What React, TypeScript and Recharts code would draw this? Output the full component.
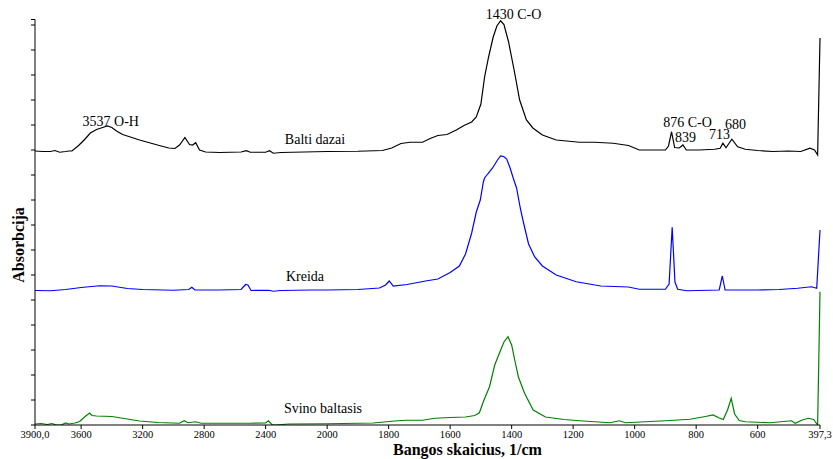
import { Label, Line, LineChart, ReferenceDot, XAxis, YAxis } from "recharts";

// Wavenumber axis ticks (1/cm)
const tickBangos = [3900, 3600, 3200, 2800, 2400, 2000, 1800, 1600, 1400, 1200, 1000, 800, 600, 397.3];
const tickTekstai = ["3900,0", "3600", "3200", "2800", "2400", "2000", "1800", "1600", "1400", "1200", "1000", "800", "600", "397,3"];

// Balti dazai (offset trace, top)
const baltiBangos = [
  3900, 3850, 3800, 3770, 3740, 3700, 3680, 3660, 3620, 3580, 3540, 3500, 3460, 3430, 3400, 3370, 3330, 3280,
  3220, 3150, 3080, 3030, 2990, 2960, 2925, 2895, 2875, 2855, 2830, 2790, 2700, 2560, 2525, 2500, 2400, 2375,
  2350, 2300, 2150, 2000, 1900, 1820, 1790, 1760, 1730, 1690, 1665, 1640, 1610, 1580, 1555, 1530, 1515, 1500,
  1488, 1475, 1460, 1448, 1436, 1425, 1410, 1392, 1374, 1352, 1331, 1300, 1255, 1180, 1130, 1070, 1020, 985,
  930, 900, 890, 880, 870, 855, 843, 832, 790, 740, 722, 713, 703, 684, 665, 640, 600, 550, 500, 460, 430, 415,
  405, 397.3,
];
const baltiAbs = [
  10.96, 10.94, 10.94, 10.98, 10.91, 10.94, 10.96, 10.96, 11.16, 11.4, 11.68, 11.82, 11.9, 11.96, 11.9, 11.76,
  11.62, 11.52, 11.4, 11.28, 11.16, 11.08, 11.06, 11.2, 11.5, 11.22, 11.2, 11.29, 11.0, 10.92, 10.9, 10.92, 10.97,
  10.91, 10.91, 10.97, 10.87, 10.9, 10.92, 10.94, 10.95, 10.98, 11.08, 11.26, 11.31, 11.31, 11.46, 11.58, 11.62,
  11.8, 11.98, 12.12, 12.32, 12.84, 13.92, 14.72, 15.52, 15.96, 16.17, 16.02, 15.32, 14.2, 13.0, 12.2, 11.88,
  11.6, 11.4, 11.31, 11.31, 11.27, 11.18, 11.0, 11.0, 11.0, 11.16, 11.73, 11.1, 11.08, 11.2, 11.0, 11.0, 11.03,
  11.07, 11.27, 11.09, 11.43, 11.13, 11.03, 10.98, 10.94, 10.96, 10.94, 11.07, 11.0, 10.8, 15.48,
];

// Kreida (offset trace, middle)
const kreidaBangos = [
  3900, 3800, 3700, 3600, 3480, 3400, 3300, 3200, 3000, 2900, 2880, 2860, 2700, 2560, 2530, 2515, 2495, 2380,
  2350, 2300, 2100, 2000, 1900, 1830, 1810, 1798, 1785, 1740, 1680, 1640, 1600, 1570, 1550, 1530, 1515, 1502,
  1492, 1488, 1478, 1462, 1452, 1446, 1436, 1426, 1416, 1405, 1395, 1384, 1372, 1362, 1345, 1325, 1300, 1255,
  1190, 1110, 1020, 985, 900, 888, 878, 869, 860, 830, 725, 715, 706, 600, 530, 470, 425, 408, 397.3,
];
const kreidaAbs = [
  5.38, 5.37, 5.42, 5.5, 5.57, 5.56, 5.46, 5.42, 5.39, 5.42, 5.51, 5.4, 5.4, 5.42, 5.62, 5.6, 5.38, 5.39, 5.35,
  5.38, 5.4, 5.4, 5.42, 5.48, 5.6, 5.76, 5.56, 5.62, 5.76, 5.84, 6.1, 6.36, 6.84, 7.68, 8.52, 9.0, 9.72, 9.88,
  10.04, 10.28, 10.48, 10.6, 10.76, 10.74, 10.64, 10.28, 9.88, 9.48, 8.68, 8.12, 7.24, 6.72, 6.36, 6.0, 5.73,
  5.56, 5.52, 5.43, 5.43, 5.64, 7.91, 5.72, 5.43, 5.37, 5.4, 5.96, 5.4, 5.4, 5.42, 5.47, 5.53, 5.47, 7.8,
];

// Svino baltasis (bottom trace)
const svinoBangos = [
  3900, 3860, 3820, 3790, 3760, 3730, 3700, 3680, 3640, 3610, 3570, 3545, 3530, 3500, 3400, 3320, 3220, 3100,
  2960, 2930, 2905, 2855, 2820, 2500, 2400, 2382, 2360, 2340, 2250, 2000, 1850, 1780, 1745, 1690, 1650, 1600,
  1550, 1520, 1505, 1490, 1472, 1455, 1440, 1425, 1412, 1400, 1390, 1378, 1358, 1330, 1290, 1230, 1180, 1080,
  1050, 1030, 900, 820, 770, 745, 725, 712, 698, 686, 675, 660, 640, 560, 490, 478, 455, 435, 418, 405, 397.3,
];
const svinoAbs = [
  0.04, 0.06, 0.02, 0.06, 0.0, 0.0, 0.08, 0.04, 0.08, 0.14, 0.36, 0.48, 0.38, 0.36, 0.34, 0.26, 0.16, 0.1, 0.07,
  0.17, 0.09, 0.13, 0.07, 0.07, 0.08, 0.17, 0.02, 0.0, 0.04, 0.05, 0.08, 0.16, 0.19, 0.19, 0.27, 0.3, 0.32, 0.38,
  0.49, 1.0, 1.53, 2.4, 2.87, 3.32, 3.53, 3.2, 2.6, 1.92, 1.27, 0.6, 0.32, 0.22, 0.17, 0.09, 0.17, 0.09, 0.17,
  0.23, 0.34, 0.4, 0.28, 0.22, 0.6, 1.07, 0.44, 0.18, 0.13, 0.09, 0.17, 0.07, 0.2, 0.27, 0.22, 0.0, 5.33,
];

// Peak and trace captions: [text, wavenumber, absorbance]
const uzrasai: [string, number, number][] = [
  ["1430 C-O", 1394, 16.44],
  ["3537 O-H", 3407, 12.14],
  ["Balti dazai", 2079, 11.42],
  ["876 C-O", 828, 12.12],
  ["839", 834.5, 11.5],
  ["713", 724, 11.64],
  ["680", 672, 12.04],
  ["Kreida", 2144, 5.96],
  ["Svino baltasis", 2027, 0.68],
];

// the region below 2000 1/cm is drawn with double horizontal scale
function asis(w: number) {
  return w >= 2000 ? 3900 - w : 1900 + (2000 - w) * 2;
}

const asisMax = asis(397.3);
const yMax = 16.22;
const yTicks = [...Array.from({ length: 17 }, (_, i) => i), yMax];
const serif = "'Liberation Serif', 'Times New Roman', serif";

function seka(bangos: number[], abs: number[]) {
  return bangos.map((w, i) => ({ x: asis(w), y: abs[i] }));
}

const serijos = [
  { vardas: "Balti dazai", duomenys: seka(baltiBangos, baltiAbs), spalva: "#000000" },
  { vardas: "Kreida", duomenys: seka(kreidaBangos, kreidaAbs), spalva: "#0000ff" },
  { vardas: "Svino baltasis", duomenys: seka(svinoBangos, svinoAbs), spalva: "#008000" },
];

function tickTekstas(t: number) {
  const i = tickBangos.findIndex((w) => Math.abs(asis(w) - t) < 0.01);
  return i >= 0 ? tickTekstai[i] : "";
}

export default function App() {
  return (
    <div style={{ position: "absolute", left: 0, top: 0, width: 833, height: 459, background: "#fff" }}>
      <LineChart width={833} height={459} margin={{ top: 19.5, right: 13, left: 0, bottom: 0 }}>
        <XAxis
          type="number"
          dataKey="x"
          domain={[0, asisMax]}
          ticks={tickBangos.map(asis)}
          interval={0}
          tickFormatter={tickTekstas}
          tickSize={4}
          tickMargin={2}
          height={34}
          stroke="#000"
          tick={{ fill: "#000", fontSize: 10.5, fontFamily: serif }}
        >
          <Label
            value="Bangos skaicius, 1/cm"
            position="insideBottom"
            offset={4}
            dx={40}
            style={{ fontFamily: serif, fontSize: 16, fontWeight: "bold", fill: "#000" }}
          />
        </XAxis>
        <YAxis
          type="number"
          domain={[0, yMax]}
          ticks={yTicks}
          interval={0}
          allowDataOverflow
          tickFormatter={() => ""}
          tickSize={4}
          width={35}
          stroke="#000"
        >
          <Label
            content={() => (
              <text
                x={18}
                y={245}
                transform="rotate(-90 18 245)"
                textAnchor="middle"
                dominantBaseline="central"
                style={{ fontFamily: serif, fontSize: 16, fontWeight: "bold", fill: "#000" }}
              >
                Absorbcija
              </text>
            )}
          />
        </YAxis>
        {serijos.map((s) => (
          <Line
            key={s.vardas}
            data={s.duomenys}
            dataKey="y"
            name={s.vardas}
            type="linear"
            stroke={s.spalva}
            strokeWidth={1.2}
            dot={false}
            activeDot={false}
            isAnimationActive={false}
          />
        ))}
        {uzrasai.map(([tekstas, w, a]) => (
          <ReferenceDot
            key={tekstas}
            x={asis(w)}
            y={a}
            r={0}
            fill="none"
            stroke="none"
            ifOverflow="visible"
            label={{ value: tekstas, position: "center", fill: "#000", fontSize: 14, fontFamily: serif }}
          />
        ))}
      </LineChart>
    </div>
  );
}
